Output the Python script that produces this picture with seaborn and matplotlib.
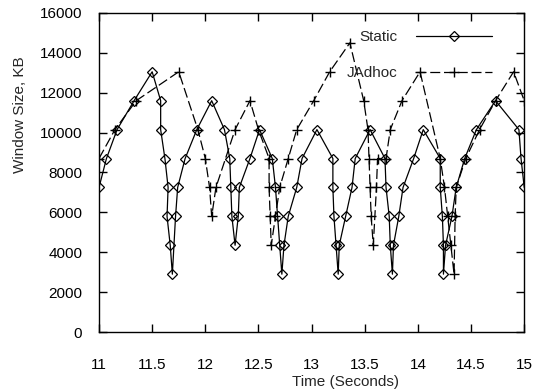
import matplotlib
matplotlib.use("Agg")
import matplotlib.pyplot as plt
import seaborn as sns

# Static window size trace (time in s, window in KB)
static_t = [11.00, 11.07, 11.17, 11.33, 11.50, 11.58, 11.58, 11.62, 11.65, 11.64, 11.67, 11.69,
            11.72, 11.74, 11.81, 11.92, 12.06, 12.18, 12.23, 12.24, 12.25, 12.28, 12.31, 12.32,
            12.42, 12.51, 12.63, 12.66, 12.68, 12.70, 12.72, 12.74, 12.78, 12.86, 12.91, 13.05,
            13.20, 13.20, 13.21, 13.23, 13.25, 13.26, 13.32, 13.38, 13.41, 13.55, 13.69, 13.70,
            13.73, 13.74, 13.76, 13.77, 13.82, 13.86, 13.96, 14.05, 14.21, 14.21, 14.23, 14.24,
            14.24, 14.26, 14.32, 14.36, 14.44, 14.55, 14.73, 14.95, 14.97, 15.00]
static_kb = [7250, 8700, 10150, 11600, 13050, 11600, 10150, 8700, 7250, 5800, 4350, 2900,
             5800, 7250, 8700, 10150, 11600, 10150, 8700, 7250, 5800, 4350, 5800, 7250,
             8700, 10150, 8700, 7250, 5800, 4350, 2900, 4350, 5800, 7250, 8700, 10150,
             8700, 7250, 5800, 4350, 2900, 4350, 5800, 7250, 8700, 10150, 8700, 7250,
             5800, 4350, 2900, 4350, 5800, 7250, 8700, 10150, 8700, 7250, 5800, 4350,
             2900, 4350, 5800, 7250, 8700, 10150, 11600, 10150, 8700, 7250]

# JAdhoc window size trace
jadhoc_t = [11.00, 11.15, 11.35, 11.75, 11.93, 12.00, 12.04, 12.06, 12.10, 12.28, 12.42, 12.50,
            12.60, 12.60, 12.61, 12.62, 12.66, 12.70, 12.78, 12.86, 13.02, 13.17, 13.36, 13.49,
            13.53, 13.54, 13.55, 13.56, 13.58, 13.61, 13.62, 13.70, 13.74, 13.85, 14.02, 14.21,
            14.25, 14.28, 14.31, 14.34, 14.35, 14.36, 14.45, 14.58, 14.73, 14.90, 15.00]
jadhoc_kb = [8700, 10150, 11600, 13050, 10150, 8700, 7250, 5800, 7250, 10150, 11600, 10150,
             8700, 7250, 5800, 4350, 5800, 7250, 8700, 10150, 11600, 13050, 14500, 11600,
             10150, 8700, 7250, 5800, 4350, 7250, 8700, 8700, 10150, 11600, 13050, 8700,
             7250, 5800, 4350, 2900, 5800, 7250, 8700, 10150, 11600, 13050, 11600]

x_ticks = [11, 11.5, 12, 12.5, 13, 13.5, 14, 14.5, 15]
x_labels = ["11", "11.5", "12", "12.5", "13", "13.5", "14", "14.5", "15"]
y_ticks = [0, 2000, 4000, 6000, 8000, 10000, 12000, 14000, 16000]

sns.set_style("ticks")
plt.rcParams["font.family"] = ["Liberation Sans", "DejaVu Sans"]
plt.rcParams["font.size"] = 11

fig = plt.figure(figsize=(5.41, 3.92), dpi=100)
ax = fig.add_axes([0.183, 0.153, 0.786, 0.814])

sns.lineplot(x=static_t, y=static_kb, ax=ax, sort=False, estimator=None,
             color="black", lw=0.9, marker="D", markersize=5.5,
             markerfacecolor="none", markeredgecolor="black", markeredgewidth=0.9,
             label="Static")
sns.lineplot(x=jadhoc_t, y=jadhoc_kb, ax=ax, sort=False, estimator=None,
             color="black", lw=0.9, linestyle=(0, (8, 3)), marker="+", markersize=7,
             markeredgecolor="black", markeredgewidth=1.0,
             label="JAdhoc")

ax.set_xlim(11, 15)
ax.set_ylim(0, 16000)
ax.set_xticks(x_ticks)
ax.set_xticklabels(x_labels)
ax.set_yticks(y_ticks)
ax.tick_params(direction="in", top=True, right=True, length=6, width=1,
               colors="black", labelsize=11)
ax.tick_params(axis="x", pad=19)
ax.tick_params(axis="y", pad=12)
for s in ax.spines.values():
    s.set_visible(True)
    s.set_linewidth(1.0)
    s.set_color("black")

ax.set_xlabel("Time (Seconds)", fontsize=11)
ax.xaxis.set_label_coords(0.58, -0.135)
ax.set_ylabel("Window Size, KB", fontsize=11)
ax.yaxis.set_label_coords(-0.17, 0.68)

ax.legend(loc="upper right", bbox_to_anchor=(0.925, 0.945), markerfirst=False,
          frameon=False, handlelength=5.0, handletextpad=1.2, labelspacing=1.4,
          borderaxespad=0, borderpad=0, numpoints=1, fontsize=11)

fig.savefig("out.png", dpi=100)
plt.close(fig)
